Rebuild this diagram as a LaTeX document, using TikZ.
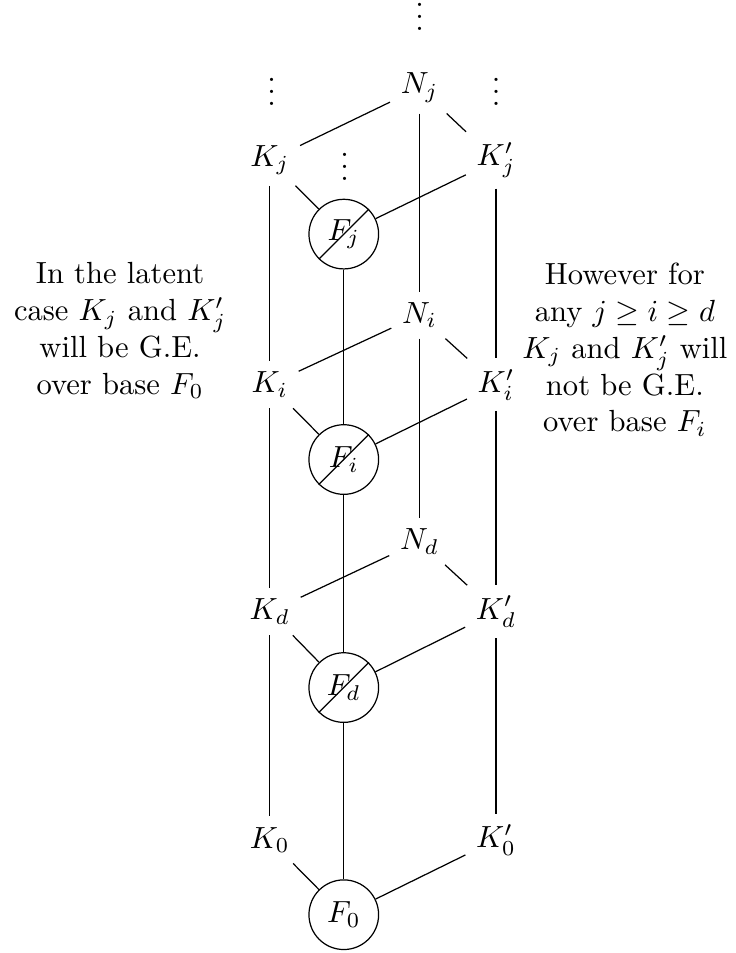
\documentclass[tikz,border=0pt]{standalone}
\usepackage{amsmath}
\tikzset{
  field/.style={circle, draw, minimum size=0.8cm, inner sep=0pt},
}
\begin{document}
\begin{tikzpicture}
  \useasboundingbox (0,0) rectangle (8.45,-10.95);
  % top level
  \node (Nj) at (4.82,-1.01) {$N_j$};
  \node (Kj) at (3.10,-1.84) {$K_j$};
  \node (Kpj) at (5.70,-1.84) {$K'_j$};
  \node[field] (Fj) at (3.95,-2.69) {$F_j$};
  % middle level
  \node (Ni) at (4.82,-3.62) {$N_i$};
  \node (Ki) at (3.10,-4.42) {$K_i$};
  \node (Kpi) at (5.70,-4.42) {$K'_i$};
  \node[field] (Fi) at (3.95,-5.28) {$F_i$};
  % lower level
  \node (Nd) at (4.82,-6.22) {$N_d$};
  \node (Kd) at (3.10,-7.03) {$K_d$};
  \node (Kpd) at (5.70,-7.03) {$K'_d$};
  \node[field] (Fd) at (3.95,-7.90) {$F_d$};
  % base
  \node (K0) at (3.10,-9.65) {$K_0$};
  \node (Kp0) at (5.70,-9.65) {$K'_0$};
  \node[field] (F0) at (3.95,-10.51) {$F_0$};
  % dots
  \node (dN) at (4.82,-0.09) {$\vdots$};
  \node (dK) at (3.12,-0.95) {$\vdots$};
  \node (dKp) at (5.70,-0.95) {$\vdots$};
  \node (dF) at (3.96,-1.81) {$\vdots$};
  % strikes
  \draw (Fj.south west) -- (Fj.north east);
  \draw (Fi.south west) -- (Fi.north east);
  \draw (Fd.south west) -- (Fd.north east);
  % verticals
  \draw (Kj) -- (Ki) -- (Kd) -- (K0);
  \draw (Kpj) -- (Kpi) -- (Kpd) -- (Kp0);
  \draw (Fj) -- (Fi) -- (Fd) -- (F0);
  \draw (Nj) -- (Ni) -- (Nd);
  % diagonals
  \draw (Kj) -- (Nj) -- (Kpj) (Kj) -- (Fj) -- (Kpj);
  \draw (Ki) -- (Ni) -- (Kpi) (Ki) -- (Fi) -- (Kpi);
  \draw (Kd) -- (Nd) -- (Kpd) (Kd) -- (Fd) -- (Kpd);
  \draw (K0) -- (F0) -- (Kp0);
  % remarks
  \node[align=center] (lnote) at (1.38,-3.80) {In the latent\\ case $K_j$ and $K'_j$\\ will be G.E.\\ over base $F_0$};
  \node[align=center] (rnote) at (7.18,-4.02) {However for\\ any $j\geq i\geq d$\\ $K_j$ and $K'_j$ will\\ not be G.E.\\ over base $F_i$};
\end{tikzpicture}
\end{document}
